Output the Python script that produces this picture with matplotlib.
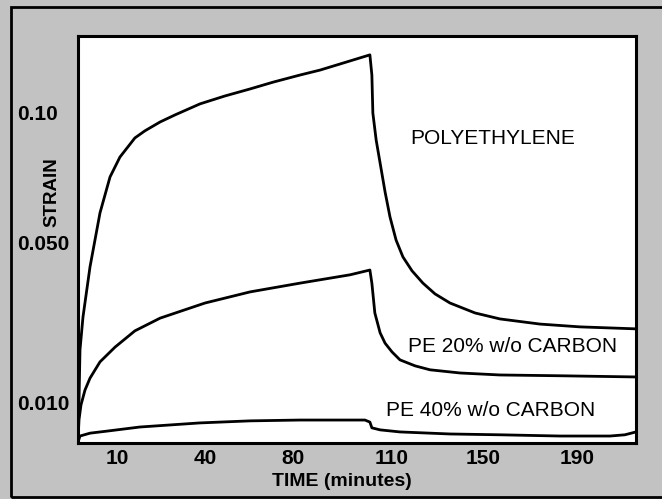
import numpy as np
import matplotlib.pyplot as plt
from matplotlib.patches import Rectangle

plt.rcParams['font.family'] = ['Liberation Sans', 'DejaVu Sans']

# time (minutes) / strain readings for each material
pe_time = [0, 0.26, 0.51, 1.28, 3.08, 5.64, 8.21, 11.0, 16.1, 19.5, 24.7, 29.8,
           38.3, 49.0, 60.5, 71.0, 82.1, 88.2, 94.2, 103.3, 103.9, 104.2,
           105.2, 106.4, 107.9, 109.4, 111.8, 114.8, 118.8, 123.6, 128.9,
           135.5, 146.5, 157.2, 174.3, 191.3, 216]
pe_strain = [0.0007, 0.0105, 0.0231, 0.0314, 0.0440, 0.0615, 0.0752, 0.0828,
             0.0901, 0.0928, 0.0962, 0.0989, 0.1031, 0.1061, 0.1088, 0.1114,
             0.1141, 0.1160, 0.1183, 0.1218, 0.1141, 0.0996, 0.0893, 0.0805,
             0.0695, 0.0599, 0.0511, 0.0465, 0.0430, 0.0399, 0.0372, 0.0349,
             0.0324, 0.0309, 0.0296, 0.0289, 0.0284]

pe20_time = [0, 0.26, 0.77, 1.79, 3.08, 5.64, 9.49, 16.1, 24.7, 40, 60.5, 82.1,
             97.3, 103.3, 103.9, 104.8, 106.4, 107.9, 110, 113.5, 120.1, 126.7,
             139.9, 157.2, 182.8, 216]
pe20_strain = [0.0007, 0.0057, 0.0093, 0.0130, 0.0160, 0.0201, 0.0238, 0.0279,
               0.0311, 0.0349, 0.0377, 0.0399, 0.0420, 0.0432, 0.0399, 0.0324,
               0.0274, 0.0248, 0.0226, 0.0206, 0.0191, 0.0181, 0.0173, 0.0168,
               0.0166, 0.0163]

pe40_time = [0, 0.51, 3.08, 7.44, 17.8, 38.3, 60.5, 82.1, 101.8, 103.3, 103.9,
             106.4, 113.5, 135.5, 157.2, 182.8, 204.5, 211.1, 216]
pe40_strain = [0.0002, 0.0017, 0.0024, 0.0029, 0.0039, 0.0049, 0.0054, 0.0056,
               0.0056, 0.0051, 0.0037, 0.0032, 0.0027, 0.0022, 0.0020, 0.0017,
               0.0017, 0.0020, 0.0027]

x_ticks = [10, 40, 80, 110, 150, 190]
y_ticks = [0.10, 0.050, 0.010]
y_tick_labels = ['0.10', '0.050', '0.010']

# the printed axes are not evenly spaced, so map through the printed tick spots
x_anchor_val = [0, 10, 40, 80, 110, 150, 190, 216]
x_anchor_pos = [0, 39, 127, 215, 314, 405, 499, 558]
y_anchor_val = [0, 0.010, 0.050, 0.10, 0.129]
y_anchor_pos = [0, 41, 200, 331, 407]


def fwd(v, a, b):
    return np.interp(v, a, b, left=b[0], right=b[-1])


fig = plt.figure(figsize=(6.62, 4.99), dpi=100)
fig.patch.set_facecolor('#c2c2c2')

# outer frame of the scanned figure
fig.add_artist(Rectangle((11 / 662, 1 - 497 / 499), 700 / 662, 490 / 499,
                         transform=fig.transFigure, fill=False,
                         edgecolor='black', linewidth=2))

ax = fig.add_axes([78 / 662, 1 - 443 / 499, 558 / 662, 407 / 499])
ax.set_facecolor('white')
ax.set_xscale('function', functions=(lambda v: fwd(v, x_anchor_val, x_anchor_pos),
                                     lambda p: fwd(p, x_anchor_pos, x_anchor_val)))
ax.set_yscale('function', functions=(lambda v: fwd(v, y_anchor_val, y_anchor_pos),
                                     lambda p: fwd(p, y_anchor_pos, y_anchor_val)))
ax.set_xlim(0, 216)
ax.set_ylim(0, 0.129)

for t, s in [(pe_time, pe_strain), (pe20_time, pe20_strain), (pe40_time, pe40_strain)]:
    ax.plot(t, s, color='black', lw=2, solid_joinstyle='round')

for s in ax.spines.values():
    s.set_linewidth(2.2)

ax.set_xticks(x_ticks)
ax.set_xticklabels([str(t) for t in x_ticks], fontsize=15, fontweight='bold')
ax.set_yticks(y_ticks)
ax.set_yticklabels(y_tick_labels, fontsize=15, fontweight='bold', ha='left')
ax.minorticks_off()
ax.tick_params(axis='x', length=0, pad=4)
ax.tick_params(axis='y', length=0, pad=44)

fig.text(52 / 662, 1 - 192 / 499, 'STRAIN', rotation=90, ha='center',
         va='center', fontsize=13.5, fontweight='bold')
fig.text(342 / 662, 1 - 482 / 499, 'TIME (minutes)', ha='center', va='center',
         fontsize=14, fontweight='bold')

fig.text(410 / 662, 1 - 138 / 499, 'POLYETHYLENE', ha='left', va='center',
         fontsize=15)
fig.text(408 / 662, 1 - 347 / 499, 'PE 20% w/o CARBON', ha='left', va='center',
         fontsize=15)
fig.text(386 / 662, 1 - 410 / 499, 'PE 40% w/o CARBON', ha='left', va='center',
         fontsize=15)

fig.savefig('out.png', dpi=100, facecolor=fig.get_facecolor())
